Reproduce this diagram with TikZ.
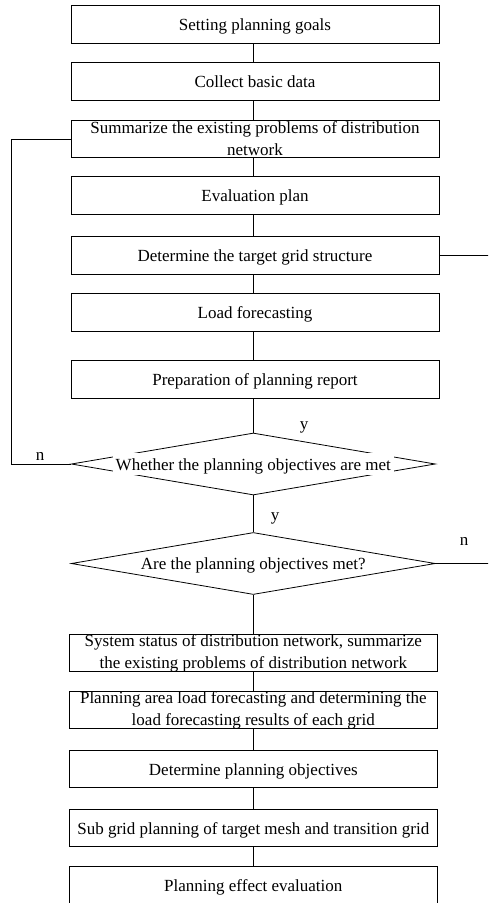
\documentclass[tikz,border=0pt]{standalone}
\usepackage{fontspec}
\setmainfont{Liberation Serif}
\usetikzlibrary{shapes.geometric}
\begin{document}
\begin{tikzpicture}[x=1pt,y=-1pt,
  box/.style={draw,line width=0.8pt,minimum width=368pt,minimum height=37.5pt,inner sep=0pt},
  boxtxt/.style={inner sep=0pt,align=center,font=\fontsize{17}{22}\selectfont},
  onetxt/.style={boxtxt,text height=12pt,text depth=0pt},
  dia/.style={draw,diamond,line width=0.8pt,minimum width=364pt,minimum height=62pt,inner sep=0pt},
  diatxt/.style={fill=white,inner sep=3pt,text height=14pt,text depth=2pt,font=\fontsize{17}{22}\selectfont},
  lab/.style={inner sep=0pt,font=\fontsize{17}{22}\selectfont},
  conn/.style={line width=0.8pt}]
\clip (0,0) rectangle (488,903);
% top boxes
\node[box] (b1) at (255,24.5) {};
\node[onetxt] (t1) at (b1) {Setting planning goals};
\node[box] (b2) at (255,81.5) {};
\node[onetxt] (t2) at (b2) {Collect basic data};
\node[box] (b3) at (255,139) {};
\node[boxtxt] (t3) at (b3) {Summarize the existing problems of distribution\\network};
\node[box] (b4) at (255,195.5) {};
\node[onetxt] (t4) at (b4) {Evaluation plan};
\node[box] (b5) at (255,255.5) {};
\node[onetxt] (t5) at (b5) {Determine the target grid structure};
\node[box] (b6) at (255,312.3) {};
\node[onetxt] (t6) at (b6) {Load forecasting};
\node[box] (b7) at (255,379.5) {};
\node[onetxt] (t7) at (b7) {Preparation of planning report};
% diamonds
\node[dia] (d1) at (253.3,464) {};
\node[diatxt] (dt1) at (d1) {Whether the planning objectives are met};
\node[dia] (d2) at (253.3,563.5) {};
\node[diatxt,fill=none] (dt2) at (d2) {Are the planning objectives met?};
% bottom boxes
\node[box] (b8) at (253.3,653) {};
\node[boxtxt] (t8) at (b8) {System status of distribution network, summarize\\the existing problems of distribution network};
\node[box] (b9) at (253.3,710) {};
\node[boxtxt] (t9) at (b9) {Planning area load forecasting and determining the\\load forecasting results of each grid};
\node[box] (b10) at (253.3,769) {};
\node[onetxt] (t10) at (b10) {Determine planning objectives};
\node[box] (b11) at (253.3,828) {};
\node[onetxt] (t11) at (b11) {Sub grid planning of target mesh and transition grid};
\node[box] (b12) at (253.3,885) {};
\node[onetxt] (t12) at (b12) {Planning effect evaluation};
% vertical connectors
\draw[conn] ([xshift=-1.7pt]b1.south) -- ([xshift=-1.7pt]b2.north);
\draw[conn] ([xshift=-1.7pt]b2.south) -- ([xshift=-1.7pt]b3.north);
\draw[conn] ([xshift=-1.7pt]b3.south) -- ([xshift=-1.7pt]b4.north);
\draw[conn] ([xshift=-1.7pt]b4.south) -- ([xshift=-1.7pt]b5.north);
\draw[conn] ([xshift=-1.7pt]b5.south) -- ([xshift=-1.7pt]b6.north);
\draw[conn] ([xshift=-1.7pt]b6.south) -- ([xshift=-1.7pt]b7.north);
\draw[conn] ([xshift=-1.7pt]b7.south) -- (d1.north);
\draw[conn] (d1.south) -- (d2.north);
\draw[conn] (d2.south) -- (b8.north);
\draw[conn] (b8.south) -- (b9.north);
\draw[conn] (b9.south) -- (b10.north);
\draw[conn] (b10.south) -- (b11.north);
\draw[conn] (b11.south) -- (b12.north);
% loop back (n)
\coordinate (lc1) at (11,139);
\coordinate (lc2) at (11,464);
\draw[conn] (b3.west) -- (lc1) -- (lc2) -- (d1.west);
% right exits
\coordinate (r1) at (490,255.5);
\coordinate (r2) at (490,563.5);
\draw[conn] (b5.east) -- (r1);
\draw[conn] (d2.east) -- (r2);
% labels
\node[lab] (ln1) at (40,456) {n};
\node[lab] (ly1) at (304,427) {y};
\node[lab] (ly2) at (275,518) {y};
\node[lab] (ln2) at (464,541) {n};
\end{tikzpicture}
\end{document}
